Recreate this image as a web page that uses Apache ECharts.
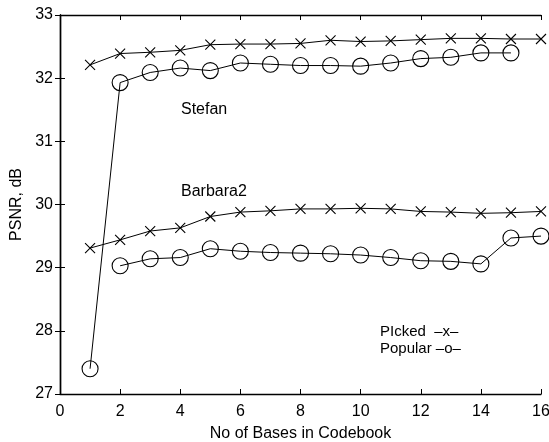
<!DOCTYPE html>
<html><head><meta charset="utf-8">
<script src="https://cdn.jsdelivr.net/npm/echarts@6/dist/echarts.min.js"></script>
<style>html,body{margin:0;padding:0;background:#fff}#c{width:549px;height:442px}</style>
</head><body><div id="c"></div>
<script>
const xTicks = [0, 2, 4, 6, 8, 10, 12, 14, 16];
const yTicks = [27, 28, 29, 30, 31, 32, 33];
const xPicked = [1,2,3,4,5,6,7,8,9,10,11,12,13,14,15,16];
const stefanPicked = [32.21,32.39,32.41,32.44,32.53,32.54,32.54,32.55,32.60,32.58,32.59,32.61,32.63,32.63,32.62,32.62];
const xStefanPopular = [1,2,3,4,5,6,7,8,9,10,11,12,13,14,15];
const stefanPopular = [27.40,31.93,32.09,32.16,32.12,32.24,32.22,32.20,32.20,32.19,32.24,32.31,32.33,32.40,32.40];
const xBarbaraPicked = [1,2,3,4,5,6,7,8,9,10,11,12,13,14,15,16];
const barbaraPicked = [29.31,29.44,29.58,29.63,29.81,29.88,29.90,29.93,29.93,29.94,29.93,29.89,29.88,29.86,29.87,29.89];
const xBarbaraPopular = [2,3,4,5,6,7,8,9,10,11,12,13,14,15,16];
const barbaraPopular = [29.03,29.14,29.16,29.30,29.26,29.24,29.23,29.22,29.20,29.16,29.11,29.10,29.06,29.47,29.50];
const labels = { stefan: 'Stefan', barbara: 'Barbara2', picked: 'PIcked  \u2013x\u2013', popular: 'Popular \u2013o\u2013' };
const xName = 'No of Bases in Codebook';
const yName = 'PSNR, dB';

const font = 'Liberation Sans, Arial, sans-serif';
const fs = 16;
const pair = (xs, ys) => xs.map((x, i) => [x, ys[i]]);
const crossPath = 'path://M0,0L10,10M10,0L0,10';

function lineSeries(data, symbol, size) {
  return {
    type: 'line', data, symbol, symbolSize: size, showSymbol: true,
    lineStyle: { color: '#000', width: 1 },
    itemStyle: { color: 'rgba(0,0,0,0)', borderColor: '#000', borderWidth: 1.1 },
    emphasis: { disabled: true }, animation: false, z: 3
  };
}

const chart = echarts.init(document.getElementById('c'), null, { renderer: 'canvas' });
const axisCommon = {
  type: 'value', interval: 2,
  axisLine: { show: true, lineStyle: { color: '#000', width: 1.4 } },
  axisTick: { show: true, inside: true, length: 5, lineStyle: { color: '#000', width: 1 } },
  splitLine: { show: false }
};
chart.setOption({
  animation: false,
  backgroundColor: '#fff',
  grid: { left: 60, right: 8, top: 15, bottom: 48, containLabel: false, outerBoundsMode: 'none' },
  xAxis: [
    Object.assign({}, axisCommon, { min: xTicks[0], max: xTicks[xTicks.length-1], position: 'bottom',
      name: xName, nameLocation: 'middle', nameGap: 32,
      nameTextStyle: { fontFamily: font, fontSize: fs, color: '#000' },
      axisLabel: { fontFamily: font, fontSize: fs, color: '#000', margin: 10 } }),
    Object.assign({}, axisCommon, { min: xTicks[0], max: xTicks[xTicks.length-1], position: 'top',
      axisLabel: { show: false } })
  ],
  yAxis: [
    Object.assign({}, axisCommon, { interval: 1, min: yTicks[0], max: yTicks[yTicks.length-1], position: 'left',
      name: yName, nameLocation: 'middle', nameGap: 35, nameRotate: 90,
      nameTextStyle: { fontFamily: font, fontSize: fs, color: '#000' },
      axisLabel: { fontFamily: font, fontSize: fs, color: '#000', margin: 7 } }),
    Object.assign({}, axisCommon, { interval: 1, min: yTicks[0], max: yTicks[yTicks.length-1], position: 'right',
      axisLabel: { show: false } })
  ],
  series: [
    lineSeries(pair(xPicked, stefanPicked), crossPath, 10),
    lineSeries(pair(xStefanPopular, stefanPopular), 'circle', 16),
    lineSeries(pair(xBarbaraPicked, barbaraPicked), crossPath, 10),
    lineSeries(pair(xBarbaraPopular, barbaraPopular), 'circle', 16)
  ],
  graphic: [
    { type: 'text', left: 181, top: 102, style: { text: labels.stefan, font: fs + 'px ' + font, fill: '#000' } },
    { type: 'text', left: 181, top: 184, style: { text: labels.barbara, font: fs + 'px ' + font, fill: '#000' } },
    { type: 'text', left: 380, top: 324, style: { text: labels.picked, font: '15px ' + font, fill: '#000' } },
    { type: 'text', left: 380, top: 341, style: { text: labels.popular, font: '15px ' + font, fill: '#000' } }
  ]
});
</script></body></html>
